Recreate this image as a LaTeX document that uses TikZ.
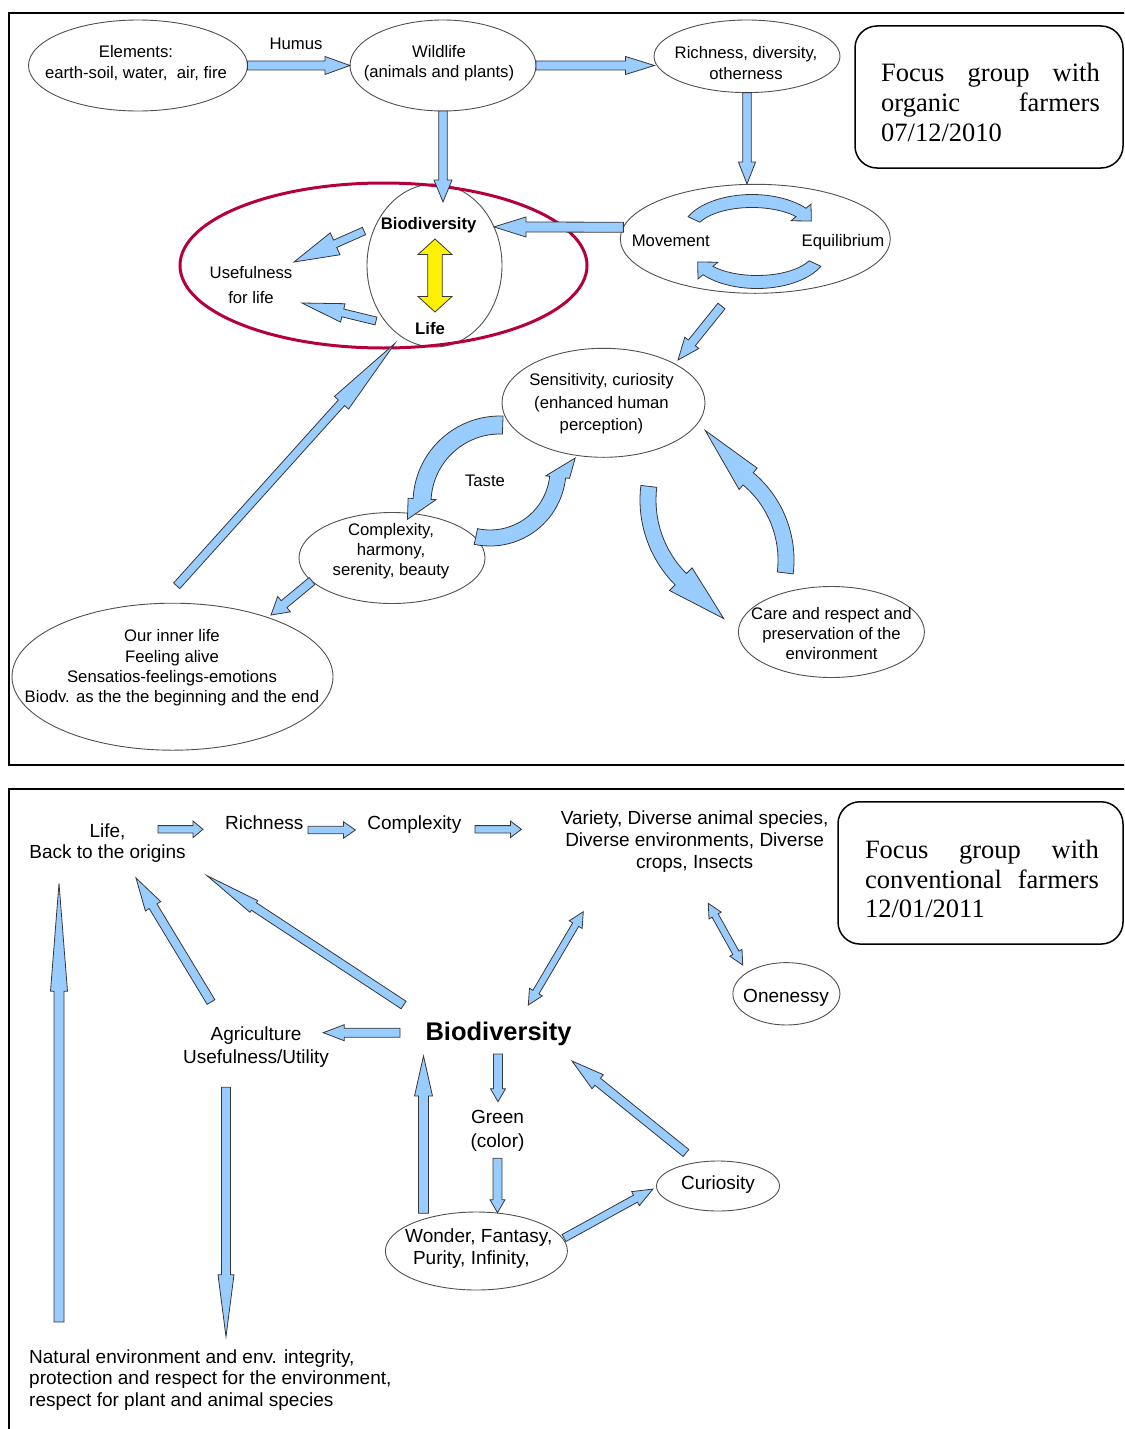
\documentclass[tikz,border=0pt]{standalone}
\usepackage{fontspec}
\setmainfont{Liberation Sans}
\newfontfamily\serfont{Liberation Serif}
\usetikzlibrary{calc,shapes.geometric}
\definecolor{arrfill}{RGB}{153,204,255}
\definecolor{arrline}{RGB}{55,55,55}
\definecolor{ellline}{RGB}{80,80,80}
\definecolor{redring}{RGB}{180,0,62}

% straight block arrow: [opts]{from}{to}{shaft half}{head half}{head length}
\newcommand{\blk}[6][]{%
  \coordinate (bA) at (#2);\coordinate (bB) at (#3);
  \coordinate (bH) at ($(bB)!#6pt!(bA)$);
  \path[blkfill,#1] ($(bA)!#4pt!90:(bB)$) -- ($(bH)!#4pt!90:(bB)$) -- ($(bH)!#5pt!90:(bB)$) -- (bB)
    -- ($(bH)!#5pt!-90:(bB)$) -- ($(bH)!#4pt!-90:(bB)$) -- ($(bA)!#4pt!-90:(bB)$) -- cycle;}
% double-headed block arrow
\newcommand{\blkd}[6][]{%
  \coordinate (bA) at (#2);\coordinate (bB) at (#3);
  \coordinate (bH) at ($(bB)!#6pt!(bA)$);
  \coordinate (bG) at ($(bA)!#6pt!(bB)$);
  \path[blkfill,#1] (bA) -- ($(bG)!#5pt!90:(bB)$) -- ($(bG)!#4pt!90:(bB)$) -- ($(bH)!#4pt!90:(bB)$)
    -- ($(bH)!#5pt!90:(bB)$) -- (bB) -- ($(bH)!#5pt!-90:(bB)$) -- ($(bH)!#4pt!-90:(bB)$)
    -- ($(bG)!#4pt!-90:(bB)$) -- ($(bG)!#5pt!-90:(bB)$) -- cycle;}
% curved block arrow: {center}{rx}{ry}{half width}{start angle}{head base angle}{head half}{tip angle}{tip radial offset}
\newcommand{\carc}[9]{%
  \pgfmathsetmacro\crxo{#2+#4}\pgfmathsetmacro\cryo{#3+#4}%
  \pgfmathsetmacro\crxi{#2-#4}\pgfmathsetmacro\cryi{#3-#4}%
  \pgfmathsetmacro\crxh{#2+#7}\pgfmathsetmacro\cryh{#3+#7}%
  \pgfmathsetmacro\crxl{#2-#7}\pgfmathsetmacro\cryl{#3-#7}%
  \pgfmathsetmacro\crxt{#2+#9}\pgfmathsetmacro\cryt{#3+#9}%
  \path[blkfill] ($(#1)+({#5}:{\crxo} and {\cryo})$) arc[start angle=#5, end angle=#6, x radius=\crxo, y radius=\cryo]
    -- ($(#1)+({#6}:{\crxh} and {\cryh})$) -- ($(#1)+({#8}:{\crxt} and {\cryt})$)
    -- ($(#1)+({#6}:{\crxl} and {\cryl})$) -- ($(#1)+({#6}:{\crxi} and {\cryi})$)
    arc[start angle=#6, end angle=#5, x radius=\crxi, y radius=\cryi] -- cycle;}

\tikzset{
  blkfill/.style={fill=arrfill, draw=arrline, line width=0.8pt, line join=miter},
  ell/.style={ellipse, draw=ellline, line width=0.9pt, inner sep=0pt, outer sep=0pt},
  tt/.style={font=\fontsize{16.7}{20.3}\selectfont, align=center, inner sep=0pt},
  ttb/.style={font=\fontsize{16.7}{20.3}\selectfont\bfseries, inner sep=0pt},
  bt/.style={font=\fontsize{19}{22.2}\selectfont, align=center, inner sep=0pt},
  focusbox/.style={draw=black, line width=1.5pt, rounded corners=22pt, inner sep=0pt},
  ft/.style={font=\serfont\fontsize{26.5}{30}\selectfont, inner sep=0pt, anchor=base west},
  frame/.style={draw=black, line width=2pt},
}

\begin{document}
\begin{tikzpicture}[x=1pt,y=-1pt]
\useasboundingbox (0,0) rectangle (1124,1429);
\clip (0,0) rectangle (1124,1429);

% ---------------- TOP PANEL ----------------
\draw[frame] (9,13) rectangle (1140,765);
\node[focusbox, minimum width=268pt, minimum height=142pt] (focA) at (989,97) {};
\node[ft] (fa1) at (881,81.7) {\makebox[218.6pt][s]{Focus group with}};
\node[ft] (fa2) at (881,111.7) {\makebox[218.6pt][s]{organic farmers}};
\node[ft] (fa3) at (881,141.7) {07/12/2010};

\node[ell, minimum width=219pt, minimum height=91pt] (elem) at (138,65.5) {};
\node[ell, minimum width=186pt, minimum height=91pt] (wild) at (443,65.5) {};
\node[ell, minimum width=186pt, minimum height=72.6pt] (rich) at (747,56.3) {};
\node[ell, minimum width=135pt, minimum height=163pt] (bioring) at (434.5,265.5) {};
\node[ellipse, draw=redring, line width=3pt, inner sep=0pt, minimum width=407pt, minimum height=165pt] (usering) at (383.5,265.5) {};
\node[ell, minimum width=270pt, minimum height=109pt] (move) at (755.3,238.8) {};
\node[ell, minimum width=203pt, minimum height=109pt] (sens) at (603.5,402.8) {};
\node[ell, minimum width=186pt, minimum height=91pt] (comp) at (392,558) {};
\node[ell, minimum width=186pt, minimum height=91pt] (care) at (831.4,632) {};
\node[ell, minimum width=321pt, minimum height=147pt] (inner) at (172.5,676.7) {};

% straight arrows
\blk{elem.east}{wild.west}{4.5}{9}{25}
\coordinate (wrtip) at (654.5,65.5);
\blk{wild.east}{wrtip}{4.5}{9}{29}
\coordinate (wbtip) at (443,202);
\blk{wild.south}{wbtip}{4.3}{9}{22}
\coordinate (rmtip) at (747,184);
\blk{rich.south}{rmtip}{4.3}{8.6}{22}
\blk{move.175}{bioring.33}{5}{10}{32}
\coordinate (u1s) at (364,231); \coordinate (u1e) at (294,262);
\blk{u1s}{u1e}{4}{12}{45}
\coordinate (u2s) at (376,321); \coordinate (u2e) at (302,303);
\blk{u2s}{u2e}{4}{9.5}{42}
\coordinate (mstail) at (721.5,306); \coordinate (mstip) at (678,360);
\blk{mstail}{mstip}{4.5}{9}{22}
\coordinate (iltail) at (176.7,585.8); \coordinate (iltip) at (395,343.3);
\blk{iltail}{iltip}{4.2}{9.5}{80}
\coordinate (citail) at (312,581); \coordinate (citip) at (271,615);
\blk{citail}{citip}{4.5}{10}{17}
\blkd[fill=yellow]{435,239}{435,312}{7.3}{17}{15.5}

% curved arrows
\carc{752,233}{64}{32}{6.5}{205}{320}{13}{338}{0}
\carc{757,250}{64}{32}{6.5}{25}{140}{13}{158}{0}
\carc{500,503}{78}{78}{9}{272}{183}{14}{170}{16}
\carc{490,470}{68}{68}{8}{102}{6}{12}{-8}{18}
\carc{760,500}{112}{112}{8}{187}{135}{16}{107}{12}
\carc{680,560}{106}{106}{8}{7}{-50}{14}{-79}{26}

% texts
\node[tt] (tElem) at (136,63) {Elements:\\earth-soil, water,\ \ air, fire};
\node[tt, anchor=base] (tHumus) at (296,49) {Humus};
\node[tt] (tWild) at (439,63) {Wildlife\\(animals and plants)};
\node[tt] (tRich) at (746,63) {Richness, diversity,\\otherness};
\node[ttb, anchor=base] (tBio) at (428.6,229) {Biodiversity};
\node[ttb, anchor=base] (tLife) at (430,334) {Life};
\node[tt, font=\fontsize{16.7}{25}\selectfont] (tUse) at (251,285) {Usefulness\\for life};
\node[tt, anchor=base] (tMove) at (670.8,246) {Movement};
\node[tt, anchor=base] (tEqui) at (843,246) {Equilibrium};
\node[tt, font=\fontsize{16.7}{22.5}\selectfont] (tSens) at (601.5,404) {Sensitivity, curiosity\\(enhanced human\\perception)};
\node[tt, anchor=base] (tTaste) at (485,486) {Taste};
\node[tt, font=\fontsize{16.7}{20}\selectfont] (tComp) at (391,551) {Complexity,\\harmony,\\serenity, beauty};
\node[tt, font=\fontsize{16.7}{19.7}\selectfont] (tCare) at (831.5,633.5) {Care and respect and\\preservation of the\\environment};
\node[tt] (tInner) at (172,668) {Our inner life\\Feeling alive\\Sensatios-feelings-emotions\\Biodv. as the the beginning and the end};

% ---------------- BOTTOM PANEL ----------------
\draw[frame] (9,789) rectangle (1140,1445);
\node[focusbox, minimum width=285pt, minimum height=142.3pt] (focB) at (980.5,872.9) {};
\node[ft] (fb1) at (864.8,858.3) {\makebox[233.8pt][s]{Focus group with}};
\node[ft] (fb2) at (864.8,888.3) {\makebox[233.8pt][s]{conventional farmers}};
\node[ft] (fb3) at (864.8,917) {12/01/2011};

\node[ell, minimum width=107pt, minimum height=62.4pt] (onen) at (786.4,993.8) {};
\node[ell, minimum width=123pt, minimum height=50pt] (curi) at (718,1186) {};
\node[ell, minimum width=182pt, minimum height=78pt] (wond) at (476.4,1251) {};

\blk{158,829.3}{203,829.3}{3.7}{8.3}{10}
\blk{308,830}{355.4,830}{3.7}{8.3}{12}
\blk{475,829.3}{521.4,829.3}{3.7}{8.3}{11}
\blkd{583.3,911.7}{528.3,1005}{3.5}{7.5}{15}
\blkd{708.3,903.3}{742.7,965}{3.5}{7}{14}
\blk{59,1322}{59,883.3}{5}{8.5}{108}
\blk{211,1002}{136,878}{4.5}{9}{33}
\blk{403.6,1005}{207.1,875.7}{4.5}{7}{56}
\blk{400,1032.7}{323.2,1032.7}{4.5}{8}{21}
\blk{226,1087.3}{226,1336.7}{4.5}{8}{62}
\blk{498,1054}{498,1101.7}{4.5}{7.5}{13}
\blk{497.5,1158.3}{497.5,1212.7}{4.5}{7.5}{13}
\blk{423.5,1213.3}{423.5,1056}{5}{9}{40}
\blk{564,1238}{653,1189}{4}{8}{20}
\blk{686,1153}{572,1061}{4.5}{9}{33}

\node[bt, font=\fontsize{19}{21.3}\selectfont] (tLifeB) at (107.5,843.4) {Life,\\Back to the origins};
\node[bt, anchor=base] (tRichB) at (264.3,829.5) {Richness};
\node[bt, anchor=base] (tCompB) at (414.3,829.5) {Complexity};
\node[bt] (tVar) at (694.6,841.3) {Variety, Diverse animal species,\\Diverse environments, Diverse\\crops, Insects};
\node[bt, anchor=base, font=\fontsize{25.5}{30}\selectfont\bfseries] (tBioB) at (498.5,1040) {Biodiversity};
\node[bt, font=\fontsize{19}{22.3}\selectfont] (tAgri) at (256,1047.2) {Agriculture\\Usefulness/Utility};
\node[bt, font=\fontsize{19}{23.4}\selectfont] (tGreen) at (497.5,1131) {Green\\(color)};
\node[bt, font=\fontsize{19}{22}\selectfont] (tWond) at (478.8,1248.3) {Wonder, Fantasy,\\Purity, Infinity,\rule{15pt}{0pt}};
\node[bt, anchor=base] (tCur) at (718,1189.8) {Curiosity};
\node[bt, anchor=base] (tOne) at (786,1002.8) {Onenessy};
\node[bt, align=left, anchor=west, font=\fontsize{19}{21.5}\selectfont] (tNat) at (29,1379.7) {Natural environment and env. integrity,\\protection and respect for the environment,\\respect for plant and animal species};
\end{tikzpicture}
\end{document}
